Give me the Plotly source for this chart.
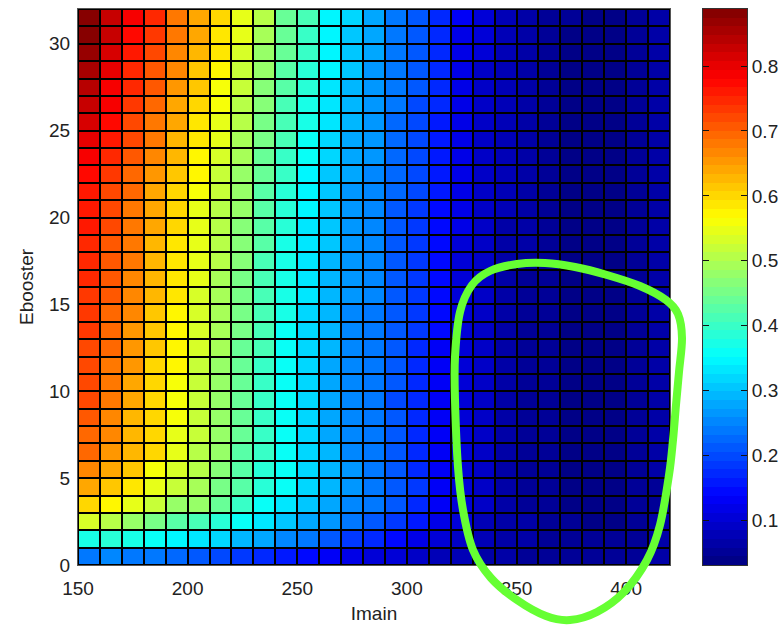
import plotly.graph_objects as go

# Imain cell edges (x) and Ebooster cell edges (y)
imain = [150, 160, 170, 180, 190, 200, 210, 220, 230, 240, 250, 260, 270, 280,
         290, 300, 310, 320, 330, 340, 350, 360, 370, 380, 390, 400, 410, 420]
ebooster = [0, 1, 2, 3, 4, 5, 6, 7, 8, 9, 10, 11, 12, 13, 14, 15, 16, 17, 18,
            19, 20, 21, 22, 23, 24, 25, 26, 27, 28, 29, 30, 31, 32]

r0 = [0.245,0.252,0.245,0.239,0.226,0.212,0.192,0.185,0.175,0.162,0.150,0.132,0.112,0.106,0.099,0.092,0.078,0.072,0.065,0.059,0.052,0.052,0.045,0.045,0.045,0.052,0.059]
r1 = [0.379,0.385,0.379,0.365,0.346,0.326,0.313,0.292,0.273,0.252,0.232,0.212,0.190,0.165,0.140,0.118,0.100,0.087,0.075,0.066,0.059,0.052,0.045,0.045,0.045,0.052,0.059]
r2 = [0.533,0.500,0.486,0.459,0.432,0.412,0.392,0.362,0.326,0.299,0.279,0.259,0.232,0.212,0.185,0.152,0.120,0.099,0.080,0.067,0.058,0.050,0.045,0.042,0.042,0.048,0.058]
r3 = [0.606,0.579,0.547,0.519,0.486,0.473,0.439,0.399,0.365,0.326,0.305,0.279,0.252,0.240,0.210,0.177,0.132,0.106,0.085,0.068,0.055,0.046,0.040,0.038,0.038,0.045,0.056]
r4 = [0.646,0.620,0.586,0.547,0.519,0.493,0.459,0.420,0.390,0.355,0.322,0.290,0.262,0.242,0.213,0.180,0.135,0.107,0.085,0.066,0.053,0.045,0.040,0.038,0.038,0.045,0.057]
r5 = [0.673,0.646,0.620,0.566,0.533,0.500,0.466,0.425,0.390,0.359,0.319,0.292,0.262,0.242,0.211,0.177,0.132,0.106,0.085,0.066,0.053,0.045,0.040,0.038,0.038,0.045,0.058]
r6 = [0.700,0.660,0.626,0.599,0.553,0.513,0.473,0.430,0.395,0.357,0.317,0.287,0.258,0.242,0.209,0.176,0.132,0.106,0.085,0.065,0.053,0.045,0.040,0.038,0.038,0.045,0.058]
r7 = [0.700,0.667,0.626,0.599,0.553,0.519,0.480,0.435,0.398,0.355,0.315,0.284,0.255,0.240,0.207,0.175,0.132,0.106,0.085,0.065,0.052,0.045,0.039,0.038,0.038,0.045,0.058]
r8 = [0.707,0.673,0.633,0.599,0.556,0.519,0.478,0.435,0.399,0.353,0.314,0.281,0.253,0.238,0.206,0.174,0.132,0.106,0.085,0.065,0.052,0.045,0.038,0.038,0.038,0.045,0.059]
r9 = [0.714,0.680,0.640,0.599,0.560,0.519,0.478,0.436,0.401,0.353,0.313,0.279,0.252,0.238,0.205,0.173,0.132,0.106,0.085,0.065,0.052,0.045,0.038,0.038,0.038,0.045,0.059]
r10 = [0.718,0.684,0.644,0.603,0.564,0.522,0.480,0.439,0.403,0.355,0.315,0.281,0.253,0.239,0.206,0.175,0.134,0.107,0.086,0.066,0.053,0.045,0.038,0.038,0.038,0.045,0.059]
r11 = [0.723,0.687,0.649,0.606,0.567,0.525,0.483,0.442,0.405,0.358,0.318,0.284,0.255,0.241,0.207,0.176,0.135,0.107,0.086,0.066,0.053,0.045,0.038,0.038,0.038,0.045,0.059]
r12 = [0.727,0.691,0.653,0.610,0.571,0.528,0.487,0.445,0.407,0.361,0.320,0.286,0.256,0.242,0.209,0.178,0.137,0.108,0.087,0.067,0.054,0.045,0.038,0.038,0.038,0.045,0.059]
r13 = [0.731,0.695,0.657,0.614,0.574,0.531,0.490,0.448,0.409,0.364,0.322,0.288,0.257,0.243,0.210,0.179,0.139,0.108,0.088,0.068,0.055,0.045,0.038,0.038,0.038,0.045,0.059]
r14 = [0.735,0.698,0.661,0.618,0.578,0.534,0.493,0.452,0.411,0.367,0.325,0.291,0.258,0.244,0.211,0.181,0.141,0.109,0.088,0.068,0.055,0.045,0.038,0.038,0.038,0.045,0.059]
r15 = [0.740,0.702,0.666,0.621,0.581,0.538,0.496,0.455,0.414,0.370,0.327,0.293,0.260,0.246,0.212,0.182,0.142,0.109,0.089,0.069,0.056,0.045,0.038,0.038,0.038,0.045,0.059]
r16 = [0.744,0.705,0.670,0.625,0.585,0.541,0.499,0.459,0.416,0.373,0.330,0.296,0.261,0.247,0.213,0.184,0.144,0.110,0.089,0.069,0.056,0.045,0.038,0.038,0.038,0.045,0.059]
r17 = [0.748,0.709,0.674,0.629,0.588,0.544,0.503,0.462,0.419,0.376,0.332,0.298,0.262,0.248,0.214,0.185,0.146,0.110,0.090,0.070,0.057,0.045,0.038,0.038,0.038,0.045,0.059]
r18 = [0.752,0.713,0.678,0.633,0.592,0.547,0.506,0.466,0.421,0.379,0.334,0.300,0.263,0.249,0.216,0.187,0.148,0.111,0.091,0.071,0.058,0.045,0.038,0.038,0.038,0.045,0.059]
r19 = [0.757,0.716,0.683,0.636,0.596,0.550,0.509,0.469,0.424,0.382,0.337,0.303,0.265,0.251,0.217,0.189,0.149,0.112,0.091,0.071,0.058,0.045,0.038,0.038,0.038,0.045,0.059]
r20 = [0.761,0.720,0.687,0.640,0.599,0.553,0.513,0.473,0.426,0.385,0.339,0.305,0.266,0.252,0.218,0.190,0.151,0.112,0.092,0.072,0.059,0.045,0.038,0.038,0.038,0.045,0.059]
r21 = [0.767,0.727,0.690,0.646,0.604,0.558,0.517,0.477,0.430,0.389,0.345,0.308,0.269,0.255,0.221,0.192,0.152,0.113,0.093,0.073,0.059,0.046,0.039,0.038,0.038,0.045,0.059]
r22 = [0.779,0.738,0.699,0.656,0.612,0.567,0.525,0.484,0.437,0.395,0.351,0.312,0.273,0.257,0.223,0.195,0.155,0.114,0.094,0.074,0.060,0.047,0.040,0.038,0.038,0.045,0.059]
r23 = [0.791,0.748,0.708,0.665,0.621,0.576,0.533,0.491,0.444,0.400,0.357,0.317,0.278,0.260,0.226,0.197,0.157,0.115,0.094,0.074,0.060,0.047,0.040,0.038,0.038,0.045,0.059]
r24 = [0.803,0.759,0.717,0.675,0.629,0.584,0.542,0.498,0.451,0.406,0.363,0.321,0.282,0.262,0.228,0.200,0.160,0.117,0.095,0.075,0.061,0.048,0.041,0.038,0.038,0.045,0.059]
r25 = [0.815,0.770,0.726,0.684,0.637,0.593,0.550,0.505,0.458,0.412,0.369,0.326,0.287,0.265,0.231,0.202,0.162,0.118,0.095,0.075,0.061,0.048,0.041,0.039,0.039,0.045,0.059]
r26 = [0.828,0.781,0.736,0.694,0.646,0.602,0.558,0.512,0.465,0.418,0.376,0.330,0.291,0.267,0.233,0.205,0.165,0.119,0.096,0.076,0.062,0.049,0.042,0.039,0.039,0.045,0.059]
r27 = [0.840,0.791,0.745,0.703,0.654,0.611,0.566,0.519,0.472,0.423,0.382,0.334,0.295,0.269,0.235,0.207,0.168,0.120,0.097,0.076,0.063,0.050,0.043,0.039,0.039,0.045,0.059]
r28 = [0.852,0.802,0.754,0.713,0.662,0.620,0.574,0.526,0.479,0.429,0.388,0.339,0.300,0.272,0.238,0.210,0.170,0.121,0.097,0.077,0.063,0.050,0.043,0.039,0.039,0.045,0.059]
r29 = [0.864,0.813,0.763,0.722,0.670,0.628,0.583,0.533,0.486,0.435,0.394,0.343,0.304,0.274,0.240,0.212,0.173,0.123,0.098,0.077,0.064,0.051,0.044,0.040,0.040,0.045,0.059]
r30 = [0.876,0.823,0.772,0.732,0.679,0.637,0.591,0.540,0.493,0.440,0.400,0.348,0.309,0.277,0.243,0.215,0.175,0.124,0.098,0.078,0.064,0.051,0.044,0.040,0.040,0.045,0.059]
r31 = [0.888,0.834,0.781,0.741,0.687,0.646,0.599,0.547,0.500,0.446,0.406,0.352,0.313,0.279,0.245,0.217,0.178,0.125,0.099,0.078,0.065,0.052,0.045,0.040,0.040,0.045,0.059]

z = [r0, r1, r2, r3, r4, r5, r6, r7, r8, r9, r10, r11, r12, r13, r14, r15,
     r16, r17, r18, r19, r20, r21, r22, r23, r24, r25, r26, r27, r28, r29, r30, r31]

x_ticks = [150, 200, 250, 300, 350, 400]
y_ticks = [0, 5, 10, 15, 20, 25, 30]
cb_ticks = [0.1, 0.2, 0.3, 0.4, 0.5, 0.6, 0.7, 0.8]
zmin, zmax = 0.031, 0.888

# MATLAB-like jet(64) discrete colormap
def clip(v):
    return max(0.0, min(1.0, v))

N = 64
jet = []
for i in range(N):
    t = (i + 0.5) / N
    r = clip(1.5 - abs(4 * t - 3))
    g = clip(1.5 - abs(4 * t - 2))
    b = clip(1.5 - abs(4 * t - 1))
    col = "rgb(%d,%d,%d)" % (round(r * 255), round(g * 255), round(b * 255))
    jet.append([i / N, col])
    jet.append([(i + 1) / N, col])

FONT = "Liberation Sans, Arial, sans-serif"
W, H = 782, 627
L, R, T, B = 78, 35, 9, 62
pw, ph = W - L - R, H - T - B          # 669 x 556
x_dom = [0, (670 - L) / pw]
cb_dom = [(703 - L) / pw, (747 - L) / pw]

fig = go.Figure()
fig.add_trace(go.Heatmap(
    x=imain, y=ebooster, z=z,
    zmin=zmin, zmax=zmax, colorscale=jet, showscale=False,
    xgap=2, ygap=2, xaxis="x", yaxis="y",
))

# colour bar drawn as its own strip, one band per colormap level
edges = [zmin + (zmax - zmin) * i / N for i in range(N + 1)]
centers = [[(edges[i] + edges[i + 1]) / 2] for i in range(N)]
fig.add_trace(go.Heatmap(
    x=[0, 1], y=edges, z=centers,
    zmin=zmin, zmax=zmax, colorscale=jet, showscale=False,
    xaxis="x2", yaxis="y2", hoverinfo="skip",
))

# green hand-drawn loop (pixel positions of the annotation stroke)
loop_px = [(455, 400), (455, 357), (460, 312), (472, 285), (490, 271), (517, 264),
           (545, 263), (575, 267), (607, 275), (640, 286), (666, 300), (678, 314),
           (682, 338), (679, 372), (676, 405), (673, 440), (669, 475), (660, 525),
           (647, 560), (624, 592), (597, 612), (570, 620), (546, 616), (517, 600),
           (491, 578), (473, 550), (463, 510), (458, 467)]

def to_paper(p):
    return ((p[0] - L) / pw, (H - B - p[1]) / ph)

pts = [to_paper(p) for p in loop_px]
n = len(pts)
d = "M %f,%f" % pts[0]
for i in range(n):
    p0, p1, p2, p3 = pts[i - 1], pts[i], pts[(i + 1) % n], pts[(i + 2) % n]
    c1 = (p1[0] + (p2[0] - p0[0]) / 6, p1[1] + (p2[1] - p0[1]) / 6)
    c2 = (p2[0] - (p3[0] - p1[0]) / 6, p2[1] - (p3[1] - p1[1]) / 6)
    d += " C %f,%f %f,%f %f,%f" % (c1 + c2 + p2)
d += " Z"

fig.add_shape(type="path", path=d, xref="paper", yref="paper",
              line=dict(color="#66ff33", width=8), layer="above")

fig.update_layout(
    width=W, height=H,
    margin=dict(l=L, r=R, t=T, b=B, pad=0),
    paper_bgcolor="white", plot_bgcolor="black",
    font=dict(family=FONT, size=19, color="#222"),
    showlegend=False,
    xaxis=dict(
        domain=x_dom, range=[150, 420], tickvals=x_ticks, ticks="outside", ticklen=6,
        tickcolor="rgba(0,0,0,0)", showgrid=False, zeroline=False,
        showline=True, mirror=True, linecolor="#555", linewidth=1,
        title=dict(text="Imain", standoff=8, font=dict(size=19)),
        tickfont=dict(size=19), automargin=False,
    ),
    yaxis=dict(
        range=[0, 32], tickvals=y_ticks, ticks="outside", ticklen=3,
        tickcolor="rgba(0,0,0,0)", showgrid=False, zeroline=False,
        showline=True, mirror=True, linecolor="#555", linewidth=1,
        title=dict(text="Ebooster", standoff=10, font=dict(size=19)),
        tickfont=dict(size=19), automargin=False,
    ),
    xaxis2=dict(
        domain=cb_dom, range=[0, 1], anchor="y2", showticklabels=False,
        ticks="", showgrid=False, zeroline=False,
        showline=True, mirror=True, linecolor="#333", linewidth=1,
        automargin=False,
    ),
    yaxis2=dict(
        domain=[0, 1], range=[zmin, zmax], anchor="x2", side="right",
        tickvals=cb_ticks, ticktext=[str(v) for v in cb_ticks],
        ticks="inside", ticklen=6, tickcolor="#111", tickwidth=1,
        showgrid=False, zeroline=False,
        showline=True, mirror="ticks", linecolor="#333", linewidth=1,
        tickfont=dict(size=19), automargin=False,
    ),
)

fig.write_html("out.html")
